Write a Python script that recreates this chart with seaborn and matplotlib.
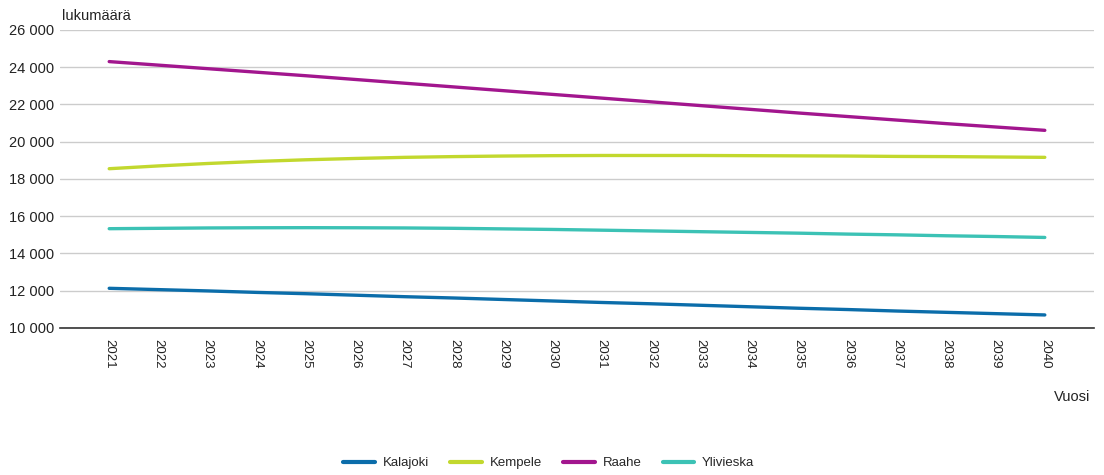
import numpy as np
import pandas as pd
import matplotlib
matplotlib.use("Agg")
import matplotlib.pyplot as plt
from matplotlib.ticker import FuncFormatter
import seaborn as sns

# data
years = list(range(2021, 2041))
kalajoki = [12130, 12060, 11990, 11910, 11840, 11760, 11680, 11610, 11530, 11450,
            11370, 11300, 11220, 11140, 11060, 10990, 10910, 10840, 10770, 10700]
kempele = [18550, 18700, 18830, 18940, 19030, 19100, 19160, 19200, 19230, 19250,
           19260, 19260, 19260, 19250, 19240, 19230, 19210, 19200, 19180, 19160]
raahe = [24300, 24110, 23920, 23730, 23540, 23340, 23140, 22940, 22740, 22540,
         22340, 22140, 21940, 21740, 21540, 21350, 21160, 20970, 20790, 20610]
ylivieska = [15330, 15350, 15370, 15380, 15385, 15380, 15370, 15350, 15320, 15290,
             15250, 15210, 15170, 15130, 15090, 15040, 15000, 14950, 14910, 14860]
municipalities = ["Kalajoki", "Kempele", "Raahe", "Ylivieska"]
colors = ["#0b6daa", "#c2d82e", "#a2168e", "#3cc2b5"]

df = pd.DataFrame({
    "Vuosi": years * 4,
    "kunta": np.repeat(municipalities, len(years)),
    "lukumäärä": kalajoki + kempele + raahe + ylivieska,
})

sns.set_style("white")
plt.rcParams["font.family"] = ["Liberation Sans", "DejaVu Sans"]

fig = plt.figure(figsize=(11.04, 4.75), dpi=100)
ax = fig.add_axes([0.0543, 0.3095, 0.9367, 0.6275])

sns.lineplot(data=df, x="Vuosi", y="lukumäärä", hue="kunta",
             palette=dict(zip(municipalities, colors)), linewidth=2.4,
             ax=ax, legend=False, solid_capstyle="round")

ax.set_xlim(2020, 2041)
ax.set_ylim(10000, 26000)
ax.set_yticks(range(10000, 26001, 2000))
ax.yaxis.set_major_formatter(FuncFormatter(lambda v, p: f"{int(v):,}".replace(",", " ")))
ax.set_xticks(years)
ax.set_xticklabels([str(y) for y in years], rotation=270, fontsize=9.5, color="#222222")
ax.tick_params(axis="y", labelsize=10.5, colors="#222222", length=0, pad=4)
ax.tick_params(axis="x", length=0, pad=8)
ax.grid(axis="y", color="#cccccc", linewidth=1)
ax.set_axisbelow(True)
for s in ["left", "right", "top"]:
    ax.spines[s].set_visible(False)
ax.spines["bottom"].set_color("#333333")
ax.spines["bottom"].set_linewidth(1.2)
ax.set_xlabel("")
ax.set_ylabel("")

fig.text(0.056, 0.952, "lukumäärä", fontsize=10.5, color="#222222", ha="left", va="bottom")
fig.text(0.988, 0.165, "Vuosi", fontsize=10.5, color="#222222", ha="right", va="center")

handles = [plt.Line2D([0], [0], color=c, linewidth=3) for c in colors]
fig.legend(handles, municipalities, loc="center", bbox_to_anchor=(0.497, 0.025),
           ncol=4, frameon=False, fontsize=9.5, handlelength=2.4, columnspacing=1.6,
           handletextpad=0.6)

fig.savefig("out.png", dpi=100)
